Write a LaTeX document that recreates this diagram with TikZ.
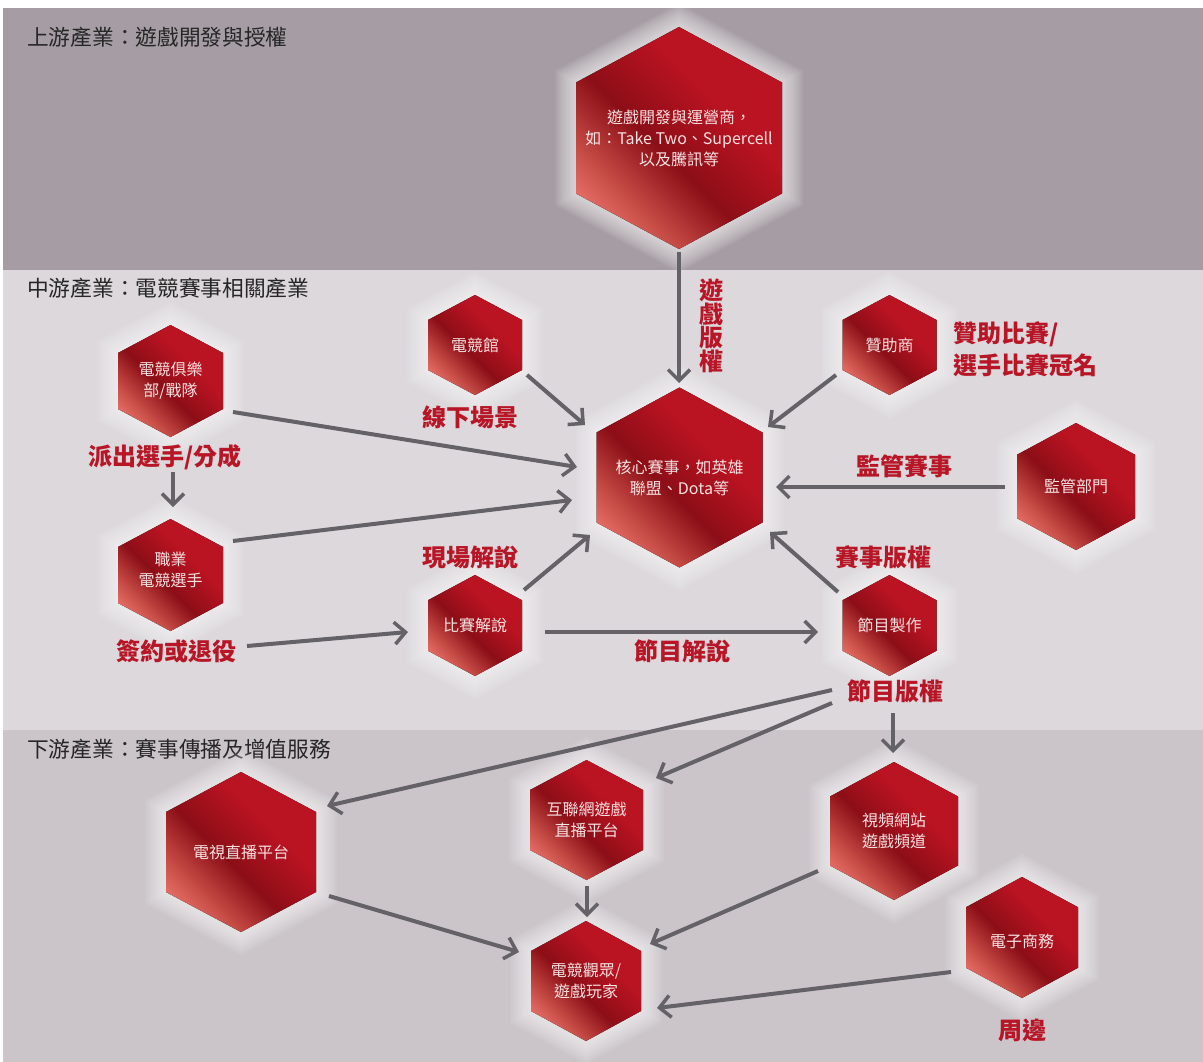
\documentclass[tikz,border=0pt]{standalone}
\usepackage{fontspec}
\setmainfont{Noto Sans CJK TC}
\usetikzlibrary{arrows.meta}
\definecolor{bandA}{RGB}{165,157,163}
\definecolor{bandB}{RGB}{220,216,219}
\definecolor{bandC}{RGB}{203,196,201}
\definecolor{arrgrey}{RGB}{100,97,103}
\definecolor{lblred}{RGB}{184,22,38}
\definecolor{hp}{RGB}{244,124,116}
\definecolor{hm}{RGB}{196,74,68}
\definecolor{hd}{RGB}{140,14,23}
\definecolor{hr}{RGB}{186,19,33}
\definecolor{htxt}{RGB}{247,226,226}
\pgfdeclarehorizontalshading{hexshade}{100bp}{color(0bp)=(hp); color(20bp)=(hp); color(32bp)=(hm); color(45bp)=(hd); color(62bp)=(hr); color(100bp)=(hr)}
\tikzset{
  hexfill/.style={shading=hexshade, shading angle=45},
  hextext/.style={text=htxt, align=center, font=\fontsize{16}{21}\selectfont, inner sep=0pt},
  lbl/.style={text=lblred, font=\fontsize{24}{25}\selectfont\bfseries, inner sep=0pt},
  bandtitle/.style={text=black!85, font=\fontsize{21.7}{24}\selectfont, anchor=west, inner sep=0pt},
  conn/.style={draw=arrgrey, line width=4pt, -{Straight Barb[length=11pt,width=22pt,line width=3.5pt]}}
}
\newcommand\hexnode[7]{%
  \foreach \g in {1,...,14}{%
    \fill[white,opacity=0.06] ({#2-#4-1.5*\g},{#3-#5/2-0.85*\g}) -- ({#2},{#3-#5-1.7*\g}) -- ({#2+#4+1.5*\g},{#3-#5/2-0.85*\g}) -- ({#2+#4+1.5*\g},{#3+#5/2+0.85*\g}) -- ({#2},{#3+#5+1.7*\g}) -- ({#2-#4-1.5*\g},{#3+#5/2+0.85*\g}) -- cycle;}
  \fill[hexfill] ({#2-#4},{#3-#5/2}) -- ({#2},{#3-#5}) -- ({#2+#4},{#3-#5/2}) -- ({#2+#4},{#3+#5/2}) -- ({#2},{#3+#5}) -- ({#2-#4},{#3+#5/2}) -- cycle;
  \node[hextext] (#1) at (#2,{#3+#6}) {#7};
}
\begin{document}
\begin{tikzpicture}[x=1pt,y=-1pt]
\useasboundingbox (0,0) rectangle (1203,1062);
\fill[white] (0,0) rectangle (1203,1062);
\fill[bandA] (3,8) rectangle (1203,270);
\fill[bandB] (3,270) rectangle (1203,730);
\fill[bandC] (3,730) rectangle (1203,1062);

\node[bandtitle] (t1) at (27,37) {上游產業：遊戲開發與授權};
\node[bandtitle] (t2) at (27,288) {中游產業：電競賽事相關產業};
\node[bandtitle] (t3) at (27,749) {下游產業：賽事傳播及增值服務};

\hexnode{dev}{679}{138}{103}{111}{0}{遊戲開發與運營商，\\如：Take Two、Supercell\\以及騰訊等}
\hexnode{core}{679.5}{477.5}{83}{90}{0}{核心賽事，如英雄\\聯盟、Dota等}
\hexnode{club}{170.5}{381}{52.5}{56}{0}{電競俱樂\\部/戰隊}
\hexnode{arena}{475}{345}{47}{50}{0}{電競館}
\hexnode{sponsor}{889.5}{345}{47}{50}{0}{贊助商}
\hexnode{reg}{1076}{486.5}{59}{63.5}{0}{監管部門}
\hexnode{player}{170.5}{575}{52.5}{56}{-5}{職業\\電競選手}
\hexnode{caster}{475}{625.5}{47}{50.5}{0}{比賽解說}
\hexnode{prod}{889.5}{625.5}{47}{50.5}{0}{節目製作}
\hexnode{tv}{241}{852}{75}{80}{0}{電視直播平台}
\hexnode{stream}{586.5}{820}{56.5}{60}{0}{互聯網遊戲\\直播平台}
\hexnode{video}{894}{831}{64}{69}{0}{視頻網站\\遊戲頻道}
\hexnode{fans}{586}{981}{55}{60}{0}{電競觀眾/\\遊戲玩家}
\hexnode{shop}{1022}{937.5}{56}{60.5}{3.5}{電子商務}

\node[lbl, align=center, font=\fontsize{24}{23.5}\selectfont\bfseries] (lcopy) at (711,326) {遊\\戲\\版\\權};
\node[lbl] (lvenue) at (470,417) {線下場景};
\node[lbl, anchor=west, align=left, font=\fontsize{24}{32}\selectfont\bfseries] (lsponsor) at (953,349) {贊助比賽/\\選手比賽冠名};
\node[lbl] (lsend) at (165,457) {派出選手/分成};
\node[lbl] (lreg) at (904,466) {監管賽事};
\node[lbl] (llive) at (470,557) {現場解說};
\node[lbl] (levent) at (883,557) {賽事版權};
\node[lbl] (lsign) at (176,651) {簽約或退役};
\node[lbl] (lshow) at (682,651) {節目解說};
\node[lbl] (lprog) at (895,691) {節目版權};
\node[lbl] (lmerch) at (1022,1030) {周邊};

\coordinate (a1) at (679,252); \coordinate (b1) at (679,383);
\coordinate (a2) at (527,375); \coordinate (b2) at (585,425);
\coordinate (a3) at (836,375); \coordinate (b3) at (768,427);
\coordinate (a4) at (233,412); \coordinate (b4) at (577,467);
\coordinate (a5) at (233,541); \coordinate (b5) at (572,500);
\coordinate (a6) at (524,590); \coordinate (b6) at (590,535);
\coordinate (a7) at (1005,487); \coordinate (b7) at (776,487);
\coordinate (a8) at (838,592); \coordinate (b8) at (770,532);
\coordinate (a9) at (173,472); \coordinate (b9) at (173,507);
\coordinate (a10) at (247,646); \coordinate (b10) at (408,632);
\coordinate (a11) at (545,632); \coordinate (b11) at (818,632);
\coordinate (a12) at (832,690); \coordinate (b12) at (327,806);
\coordinate (a13) at (832,703); \coordinate (b13) at (656,778);
\coordinate (a14) at (893,713); \coordinate (b14) at (893,753);
\coordinate (a15) at (587,886); \coordinate (b15) at (587,917);
\coordinate (a16) at (329,896); \coordinate (b16) at (519,952);
\coordinate (a17) at (818,871); \coordinate (b17) at (650,944);
\coordinate (a18) at (951,972); \coordinate (b18) at (657,1008);

\foreach \i in {1,...,18}{\draw[conn] (a\i) -- (b\i);}
\end{tikzpicture}
\end{document}
